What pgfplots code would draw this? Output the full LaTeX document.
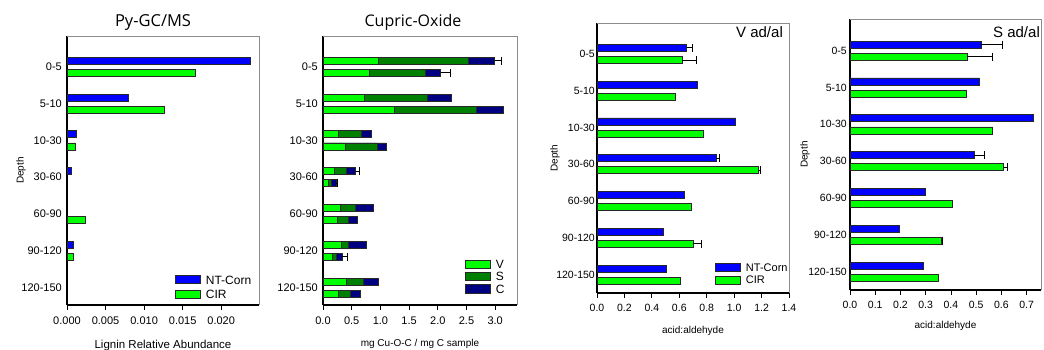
\documentclass[border=0pt]{standalone}
\usepackage{fontspec}
\setmainfont{Liberation Sans}
\newfontfamily\titlefont{Open Sans}
\usepackage{pgfplots}
\pgfplotsset{compat=1.18}
\definecolor{cblue}{RGB}{0,0,255}
\definecolor{cgreen}{RGB}{0,255,0}
\definecolor{cdkgreen}{RGB}{0,128,0}
\definecolor{cnavy}{RGB}{0,0,128}
\definecolor{edge}{RGB}{40,40,40}

\pgfplotsset{
  panel/.style={
    scale only axis,
    axis lines*=left,
    axis line style={line width=1.1pt, black},
    tick align=outside,
    major tick length=5pt,
    xtick style={black, line width=0.8pt},
    ytick style={draw=none},
    ytick={0,...,6},
    yticklabels={120-150,90-120,60-90,30-60,10-30,5-10,0-5},
    xmin=0,
    scaled x ticks=false,
    /pgf/number format/assume math mode=true,
    clip=false,
    yticklabel style={inner sep=0pt},
    xticklabel style={yshift=-3pt},
    every axis y label/.style={rotate=90, anchor=center, font=\fontsize{10}{12}\selectfont},
    every axis x label/.style={anchor=center},
    legend style={draw=none, fill=none, inner sep=0pt, nodes={inner sep=1pt, text depth=0pt},
      /tikz/every odd column/.append style={column sep=4pt}},
    legend cell align=left,
    after end axis/.code={\draw[black!45, line width=0.6pt] (axis description cs:0,1) -- (axis description cs:1,1) -- (axis description cs:1,0);},
  },
  hbar/.style={xbar, bar width=0.19, bar shift=0pt, draw=edge, line width=0.7pt,
    legend image code/.code={\draw[##1] (0pt,-4pt) rectangle (25pt,4pt);}},
  errs/.style={draw=none, mark=none, forget plot, error bars/.cd, x dir=plus, x explicit,
    error bar style={draw=black, solid, line width=0.8pt}, error mark=-, error mark options={rotate=90, draw=black, solid, mark size=4pt, line width=0.8pt}},
}

\begin{document}
\begin{tikzpicture}
\path[use as bounding box] (0,0) rectangle (1044pt,350pt);

% ---------------- Panel 1: Py-GC/MS
\begin{axis}[panel, at={(67pt,45pt)}, anchor=south west, width=192pt, height=269pt,
  xmax=0.0249, ymin=-0.473, ymax=6.837,
  xtick={0,0.005,0.01,0.015,0.02}, xticklabels={0.000,0.005,0.010,0.015,0.020},
  tick label style={font=\fontsize{11}{13}\selectfont},
  xlabel={Lignin Relative Abundance},
  xlabel style={at={(axis description cs:0.5,-0.152)}, font=\fontsize{11.5}{13}\selectfont},
  ylabel={Depth}, ylabel style={at={(axis description cs:-0.24,0.5)}},
  title={Py-GC/MS},
  every axis title/.style={at={(axis description cs:0.448,1.052)}, anchor=center, font=\titlefont\fontsize{16.5}{18}\selectfont},
  legend style={at={(axis description cs:0.5625,0.02)}, anchor=south west, font=\fontsize{12}{14}\selectfont, row sep=4pt},
]
\addplot[hbar, fill=cblue] coordinates {(0.0238,6.165) (0.00792,5.165) (0.00126,4.165) (0.0006,3.165) (0.00087,1.165)};
\addlegendentry{NT-Corn}
\addplot[hbar, fill=cgreen] coordinates {(0.01667,5.835) (0.0126,4.835) (0.00113,3.835) (0.00242,1.835) (0.00087,0.835)};
\addlegendentry{CIR}
\end{axis}

% ---------------- Panel 2: Cupric-Oxide
\begin{axis}[panel, at={(323pt,45pt)}, anchor=south west, width=194pt, height=269pt,
  xmax=3.38, ymin=-0.473, ymax=6.837,
  xtick={0,0.5,1,1.5,2,2.5,3}, xticklabels={0.0,0.5,1.0,1.5,2.0,2.5,3.0},
  tick label style={font=\fontsize{11}{13}\selectfont},
  xlabel={mg Cu-O-C / mg C sample},
  xlabel style={at={(axis description cs:0.5,-0.145)}, font=\fontsize{10}{12}\selectfont},
  title={Cupric-Oxide},
  every axis title/.style={at={(axis description cs:0.464,1.052)}, anchor=center, font=\titlefont\fontsize{16}{18}\selectfont},
  legend style={at={(axis description cs:0.732,0.04)}, anchor=south west, font=\fontsize{12}{14}\selectfont, row sep=2pt},
  reverse legend,
]
\addplot[hbar, fill=cnavy] coordinates {
 (2.99,6.165) (2.23,5.165) (0.845,4.165) (0.57,3.165) (0.87,2.165) (0.76,1.165) (0.956,0.165)
 (2.05,5.835) (3.14,4.835) (1.10,3.835) (0.227,2.835) (0.594,1.835) (0.338,0.835) (0.659,-0.165)};
\addlegendentry{C}
\addplot[hbar, fill=cdkgreen] coordinates {
 (2.54,6.165) (1.81,5.165) (0.676,4.165) (0.41,3.165) (0.56,2.165) (0.449,1.165) (0.705,0.165)
 (1.79,5.835) (2.67,4.835) (0.94,3.835) (0.15,2.835) (0.44,1.835) (0.227,0.835) (0.478,-0.165)};
\addlegendentry{S}
\addplot[hbar, fill=cgreen] coordinates {
 (0.967,6.165) (0.72,5.165) (0.27,4.165) (0.19,3.165) (0.30,2.165) (0.315,1.165) (0.40,0.165)
 (0.80,5.835) (1.25,4.835) (0.396,3.835) (0.093,2.835) (0.25,1.835) (0.163,0.835) (0.274,-0.165)};
\addlegendentry{V}
\addplot[errs] coordinates {(2.99,6.165) +- (0.12,0) (2.05,5.835) +- (0.17,0) (0.57,3.165) +- (0.065,0) (0.227,2.835) +- (0.03,0) (0.338,0.835) +- (0.087,0)};
\end{axis}

% ---------------- Panel 3: V ad/al
\begin{axis}[panel, at={(597pt,57pt)}, anchor=south west, width=192pt, height=270pt,
  xmax=1.4, ymin=-0.5, ymax=6.84,
  xtick={0,0.2,0.4,0.6,0.8,1.0,1.2,1.4}, xticklabels={0.0,0.2,0.4,0.6,0.8,1.0,1.2,1.4},
  tick label style={font=\fontsize{10.5}{12}\selectfont},
  yticklabel style={xshift=3pt},
  xlabel={acid:aldehyde},
  xlabel style={at={(axis description cs:0.5,-0.14)}, font=\fontsize{10}{12}\selectfont},
  ylabel={Depth}, ylabel style={at={(axis description cs:-0.219,0.5)}},
  legend style={at={(axis description cs:0.615,0.03)}, anchor=south west, font=\fontsize{11}{13}\selectfont, row sep=3pt},
]
\addplot[hbar, fill=cblue] coordinates {(0.654,6.165) (0.731,5.165) (1.012,4.165) (0.867,3.165) (0.640,2.165) (0.481,1.165) (0.506,0.165)};
\addlegendentry{NT-Corn}
\addplot[hbar, fill=cgreen] coordinates {(0.622,5.835) (0.570,4.835) (0.778,3.835) (1.178,2.835) (0.689,1.835) (0.699,0.835) (0.605,-0.165)};
\addlegendentry{CIR}
\addplot[errs] coordinates {(0.654,6.165) +- (0.045,0) (0.622,5.835) +- (0.10,0) (0.867,3.165) +- (0.022,0) (1.178,2.835) +- (0.015,0) (0.699,0.835) +- (0.061,0)};
\node[anchor=east, inner sep=0pt, font=\fontsize{15}{17}\selectfont] at (axis description cs:0.969,0.967) {V ad/al};
\end{axis}

% ---------------- Panel 4: S ad/al
\begin{axis}[panel, at={(850pt,60pt)}, anchor=south west, width=191pt, height=271pt,
  xmax=0.757, ymin=-0.5, ymax=6.86,
  xtick={0,0.1,0.2,0.3,0.4,0.5,0.6,0.7}, xticklabels={0.0,0.1,0.2,0.3,0.4,0.5,0.6,0.7},
  tick label style={font=\fontsize{10.5}{12}\selectfont},
  yticklabel style={xshift=2pt},
  xlabel={acid:aldehyde},
  xlabel style={at={(axis description cs:0.5,-0.132)}, font=\fontsize{10}{12}\selectfont},
  ylabel={Depth}, ylabel style={at={(axis description cs:-0.2356,0.5)}},
]
\addplot[hbar, fill=cblue] coordinates {(0.521,6.165) (0.513,5.165) (0.725,4.165) (0.492,3.165) (0.300,2.165) (0.194,1.165) (0.289,0.165)};
\addplot[hbar, fill=cgreen] coordinates {(0.464,5.835) (0.460,4.835) (0.566,3.835) (0.609,2.835) (0.405,1.835) (0.362,0.835) (0.349,-0.165)};
\addplot[errs] coordinates {(0.521,6.165) +- (0.084,0) (0.464,5.835) +- (0.10,0) (0.492,3.165) +- (0.04,0) (0.609,2.835) +- (0.014,0) (0.362,0.835) +- (0.004,0)};
\node[anchor=east, inner sep=0pt, font=\fontsize{15}{17}\selectfont] at (axis description cs:0.995,0.952) {S ad/al};
\end{axis}
\end{tikzpicture}
\end{document}
